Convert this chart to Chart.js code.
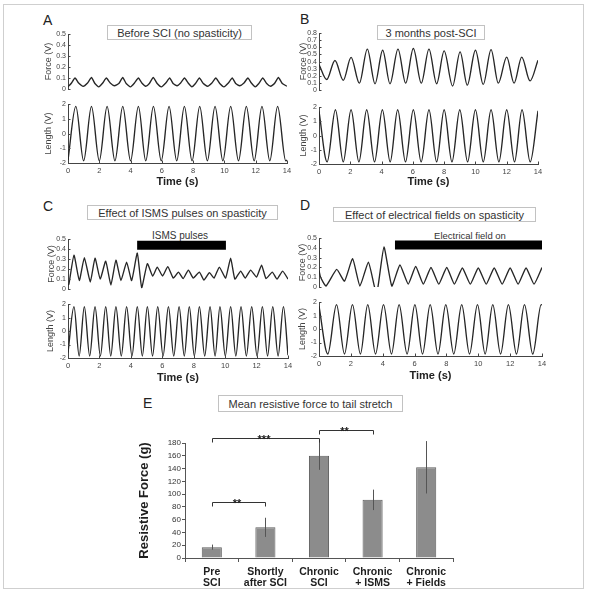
<!DOCTYPE html>
<html>
<head>
<meta charset="utf-8">
<script src="https://cdn.jsdelivr.net/npm/chart.js@4.4.0/dist/chart.umd.min.js"></script>
<style>
body { margin: 0; background: #fff; font-family: "Liberation Sans", Arial, sans-serif; }
#fig { position: relative; width: 590px; height: 599px; overflow: hidden; }
.frame { position: absolute; left: 3px; top: 4px; width: 579px; height: 583px; border: 1px solid #cfcfcf; }
canvas { position: absolute; }
.tbox { position: absolute; border: 1px solid #c2c2c2; background: #fff; color: #333; font-size: 11px;
        box-sizing: border-box; display: flex; align-items: center; justify-content: center; white-space: nowrap; }
.letter { position: absolute; font-size: 14px; line-height: 1; color: #222; }
.note { position: absolute; color: #333; white-space: nowrap; transform: translate(-50%, -50%); }
</style>
</head>
<body>
<div id="fig">
  <div class="frame"></div>

  <div class="letter" style="left:43px;top:13px">A</div>
  <div class="letter" style="left:300px;top:12px">B</div>
  <div class="letter" style="left:43px;top:199px">C</div>
  <div class="letter" style="left:300px;top:198px">D</div>
  <div class="letter" style="left:143px;top:396px">E</div>

  <div class="tbox" style="left:107px;top:25px;width:145px;height:15px">Before SCI (no spasticity)</div>
  <div class="tbox" style="left:377px;top:25px;width:108px;height:15px">3 months post-SCI</div>
  <div class="tbox" style="left:87px;top:205px;width:191px;height:15px">Effect of ISMS pulses on spasticity</div>
  <div class="tbox" style="left:333px;top:207px;width:203px;height:15px">Effect of electrical fields on spasticity</div>
  <div class="tbox" style="left:218px;top:395px;width:185px;height:17px">Mean resistive force to tail stretch</div>

  <div class="note" style="left:180px;top:235px;font-size:10px">ISMS pulses</div>
  <div class="note" style="left:470px;top:235px;font-size:9.5px">Electrical field on</div>

  <canvas id="forceA"></canvas>
  <canvas id="lengthA"></canvas>
  <canvas id="forceB"></canvas>
  <canvas id="lengthB"></canvas>
  <canvas id="forceC"></canvas>
  <canvas id="lengthC"></canvas>
  <canvas id="forceD"></canvas>
  <canvas id="lengthD"></canvas>
  <canvas id="barE"></canvas>
</div>

<script>
// ---- traces: [time (s), volts] ----
const forceA = [
  [0,0.02],[0.2,0.05],[0.45,0.1],[0.68,0.055],[0.97,0.025],[1.25,0.055],
  [1.5,0.105],[1.72,0.05],[1.97,0.02],[2.22,0.055],
  [2.45,0.1],[2.7,0.055],[2.97,0.03],[3.25,0.05],
  [3.5,0.105],[3.72,0.05],[4.0,0.02],[4.25,0.055],
  [4.5,0.1],[4.72,0.055],[4.97,0.025],[5.2,0.05],
  [5.45,0.105],[5.7,0.05],[5.97,0.02],[6.25,0.055],
  [6.5,0.1],[6.72,0.05],[6.97,0.03],[7.2,0.055],
  [7.45,0.1],[7.68,0.055],[7.92,0.02],[8.15,0.05],
  [8.4,0.1],[8.65,0.05],[8.92,0.025],[9.2,0.055],
  [9.45,0.1],[9.7,0.05],[9.97,0.02],[10.25,0.055],
  [10.5,0.1],[10.72,0.05],[10.97,0.03],[11.25,0.055],
  [11.5,0.1],[11.72,0.055],[11.97,0.02],[12.2,0.05],
  [12.45,0.1],[12.7,0.05],[12.95,0.025],[13.2,0.05],
  [13.45,0.105],[13.7,0.05],[14,0.025]
];
const lengthA = [
  [0,-1.8],[0.5,1.85],[1.0,-1.85],[1.5,1.85],[2.0,-1.85],[2.5,1.85],[3.0,-1.85],[3.5,1.85],
  [4.0,-1.85],[4.5,1.85],[4.97,-1.85],[5.46,1.85],[5.96,-1.85],[6.46,1.85],[6.95,-1.85],
  [7.44,1.85],[7.93,-1.85],[8.42,1.85],[8.91,-1.85],[9.4,1.85],[9.9,-1.85],[10.4,1.85],
  [10.9,-1.85],[11.4,1.85],[11.9,-1.85],[12.4,1.85],[12.9,-1.85],[13.4,1.85],[13.92,-1.85],[14,-1.8]
];
const forceB = [
  [0,0.36],[0.49,0.148],[1.02,0.416],[1.55,0.136],[2.05,0.46],[2.58,0.096],[3.09,0.576],
  [3.58,0.088],[4.07,0.56],[4.54,0.088],[5.05,0.576],[5.54,0.096],[6.03,0.584],[6.54,0.096],
  [7.03,0.576],[7.52,0.088],[8.0,0.55],[8.54,0.056],[9.02,0.536],[9.48,0.068],[10.0,0.56],
  [10.5,0.08],[11.0,0.568],[11.46,0.096],[12.0,0.464],[12.47,0.096],[12.96,0.464],[13.49,0.128],[14,0.42]
];
const lengthB = [
  [0,1.7],[0.52,-1.85],[1.05,1.82],[1.55,-1.85],[2.05,1.82],[2.55,-1.85],[3.05,1.82],[3.55,-1.85],
  [4.05,1.82],[4.55,-1.85],[5.03,1.82],[5.53,-1.85],[6.03,1.82],[6.53,-1.85],[7.03,1.82],[7.52,-1.85],
  [8.0,1.82],[8.5,-1.85],[9.0,1.82],[9.5,-1.85],[10.0,1.82],[10.5,-1.85],[11.0,1.82],[11.5,-1.85],
  [12.0,1.82],[12.5,-1.85],[12.98,1.82],[13.5,-1.85],[14,1.75]
];
const forceC = [
  [0,0.04],[0.06,0.05],[0.38,0.34],[0.72,0.085],[1.04,0.315],[1.42,0.07],[1.72,0.31],[2.05,0.1],
  [2.4,0.28],[2.73,0.04],[3.05,0.29],[3.37,0.085],[3.73,0.27],[4.05,0.085],[4.41,0.36],[4.69,0.015],
  [5.05,0.255],[5.39,0.13],[5.68,0.22],[6.02,0.13],[6.35,0.225],[6.7,0.11],[7.03,0.17],[7.33,0.105],
  [7.66,0.19],[7.97,0.11],[8.36,0.17],[8.65,0.09],[9.0,0.165],[9.29,0.11],[9.63,0.22],[10.03,0.11],
  [10.35,0.31],[10.62,0.1],[10.99,0.18],[11.28,0.11],[11.62,0.19],[12.0,0.12],[12.32,0.24],[12.6,0.105],
  [13.0,0.17],[13.3,0.1],[13.66,0.18],[14,0.1]
];
const lengthC = [
  [0,-1.6],[0.38,1.82],[0.71,-1.85],[1.04,1.82],[1.38,-1.85],[1.72,1.82],[2.06,-1.85],[2.4,1.82],
  [2.72,-1.85],[3.05,1.82],[3.39,-1.85],[3.73,1.82],[4.07,-1.85],[4.41,1.82],[4.73,-1.85],[5.05,1.82],
  [5.38,-1.85],[5.71,1.82],[6.05,-1.85],[6.39,1.82],[6.73,-1.85],[7.07,1.82],[7.4,-1.85],[7.72,1.82],
  [8.04,-1.85],[8.36,1.82],[8.7,-1.85],[9.04,1.82],[9.36,-1.85],[9.67,1.82],[10.01,-1.85],[10.35,1.82],
  [10.68,-1.85],[11.01,1.82],[11.35,-1.85],[11.69,1.82],[12.03,-1.85],[12.37,1.82],[12.7,-1.85],
  [13.03,1.82],[13.37,-1.85],[13.71,1.82],[14,-1.8]
];
const forceD = [
  [0,0.17],[0.1,0.1],[0.44,0.01],[1.11,0.18],[1.6,0.06],[2.11,0.29],[2.57,0.01],[3.1,0.255],
  [3.52,-0.02],[3.68,-0.02],[4.08,0.41],[4.57,0.01],[5.08,0.225],[5.6,0.03],[6.07,0.21],[6.55,0.03],
  [7.03,0.2],[7.52,0.03],[8.02,0.2],[8.5,0.03],[9.0,0.195],[9.5,0.03],[10.0,0.195],[10.5,0.03],
  [11.0,0.195],[11.5,0.03],[12.0,0.195],[12.5,0.03],[13.0,0.195],[13.5,0.03],[14,0.2]
];
const lengthD = [
  [0,1.7],[0.55,-1.85],[1.1,1.82],[1.6,-1.85],[2.1,1.82],[2.6,-1.85],[3.06,1.82],[3.55,-1.85],
  [4.05,1.82],[4.55,-1.85],[5.03,1.82],[5.53,-1.85],[6.02,1.82],[6.5,-1.85],[6.98,1.82],[7.47,-1.85],
  [7.96,1.82],[8.46,-1.85],[8.96,1.82],[9.45,-1.85],[9.95,1.82],[10.43,-1.85],[10.91,1.82],[11.4,-1.85],
  [11.89,1.82],[12.4,-1.85],[12.9,1.82],[13.42,-1.85],[13.95,1.82],[14,1.8]
];

// stimulation periods (start s, end s, drawn at force level)
const ismsBar = [4.4, 10.05, 0.44];
const fieldBar = [4.77, 14, 0.43];

// ---- panel E ----
const groups = [['Pre','SCI'], ['Shortly','after SCI'], ['Chronic','SCI'], ['Chronic','+ ISMS'], ['Chronic','+ Fields']];
const meanForce = [17, 48, 160, 91, 142];
const errForce = [4, 15, 22, 16, 41];
const sigFrom = [0, 2, 0];
const sigTo = [2, 3, 1];
const sigLevel = [188, 200, 88];
const sigLabel = ['***', '**', '**'];

Chart.defaults.font.family = '"Liberation Sans", Arial, sans-serif';
Chart.defaults.color = '#444';

// puts a canvas so that the chart area lands on box {x, y, w, h}
function placeCanvas(id, box, pad) {
  const cv = document.getElementById(id);
  cv.width = box.w + pad.l + pad.r;
  cv.height = box.h + pad.t + pad.b;
  cv.style.left = (box.x - pad.l) + 'px';
  cv.style.top = (box.y - pad.t) + 'px';
  return cv;
}

// small matlab-style ticks pointing into the plot
const innerTicks = {
  id: 'innerTicks',
  afterDraw(chart) {
    const ctx = chart.ctx;
    const area = chart.chartArea;
    ctx.save();
    ctx.strokeStyle = '#444';
    ctx.lineWidth = 1;
    ['x', 'y'].forEach(key => {
      const sc = chart.scales[key];
      if (!sc || !sc.options.display) return;
      sc.ticks.forEach(t => {
        const p = Math.round(sc.getPixelForValue(t.value)) + 0.5;
        ctx.beginPath();
        if (key === 'y') { ctx.moveTo(area.left, p); ctx.lineTo(area.left + 2.5, p); }
        else { ctx.moveTo(p, area.bottom); ctx.lineTo(p, area.bottom - 2.5); }
        ctx.stroke();
      });
    });
    ctx.restore();
  }
};

function traceChart(id, box, pts, yMin, yMax, yStep, yTitle, showTime, smooth, stim) {
  const pad = {l: box.padL, t: 6, r: 10, b: showTime ? box.padB : 6};
  const cv = placeCanvas(id, box, pad);

  let datasets = [{
    data: pts.map(p => ({x: p[0], y: p[1]})),
    borderColor: '#262626',
    borderWidth: 1.35,
    pointRadius: 0,
    cubicInterpolationMode: smooth ? 'monotone' : 'default',
    tension: smooth ? 0 : 0.15,
    fill: false
  }];
  if (stim) {
    datasets.push({
      data: [{x: stim[0], y: stim[2]}, {x: stim[1], y: stim[2]}],
      borderColor: '#000',
      borderWidth: 9,
      borderCapStyle: 'butt',
      pointRadius: 0,
      fill: false
    });
  }

  new Chart(cv, {
    type: 'line',
    data: {datasets: datasets},
    options: {
      responsive: false,
      animation: false,
      devicePixelRatio: 1,
      layout: {padding: {top: pad.t, right: pad.r, left: 0, bottom: showTime ? 0 : pad.b}},
      plugins: {legend: {display: false}, tooltip: {enabled: false}},
      scales: {
        x: {
          type: 'linear', min: 0, max: 14,
          display: showTime,
          grid: {display: false, drawTicks: false},
          border: {display: true, color: '#444', width: 1},
          ticks: {stepSize: 2, autoSkip: false, maxRotation: 0, padding: 3, font: {size: 7.5}, color: '#444'},
          title: {display: true, text: 'Time (s)', padding: 0, color: '#222', font: {size: 11, weight: 'bold'}},
          afterFit: s => { s.height = pad.b; }
        },
        y: {
          min: yMin, max: yMax,
          grid: {display: false, drawTicks: false},
          border: {display: true, color: '#444', width: 1},
          ticks: {stepSize: yStep, autoSkip: false, padding: 2, font: {size: 7}, color: '#444'},
          title: {display: true, text: yTitle, padding: 0, color: '#444', font: {size: 9}},
          afterFit: s => { s.width = pad.l; }
        }
      }
    },
    plugins: [innerTicks]
  });
}

traceChart('forceA',  {x: 68,  y: 34,  w: 219, h: 61, padL: 25},         forceA,  0, 0.5, 0.1, 'Force (V)',  false, false);
traceChart('lengthA', {x: 68,  y: 104, w: 219, h: 59, padL: 25, padB: 26}, lengthA, -2, 2, 1,   'Length (V)', true,  true);
traceChart('forceB',  {x: 319, y: 33,  w: 219, h: 63, padL: 21},         forceB,  0, 0.8, 0.1, 'Force (V)',  false, true);
traceChart('lengthB', {x: 319, y: 107, w: 219, h: 57, padL: 21, padB: 25}, lengthB, -2, 2, 1,   'Length (V)', true,  true);
traceChart('forceC',  {x: 68,  y: 239, w: 220, h: 56, padL: 22},         forceC,  0, 0.5, 0.1, 'Force (V)',  false, false, ismsBar);
traceChart('lengthC', {x: 68,  y: 304, w: 220, h: 54, padL: 23, padB: 27}, lengthC, -2, 2, 1,   'Length (V)', true,  true);
traceChart('forceD',  {x: 319, y: 238, w: 223, h: 55, padL: 22},         forceD,  0, 0.5, 0.1, 'Force (V)',  false, false, fieldBar);
traceChart('lengthD', {x: 319, y: 302, w: 223, h: 54, padL: 22, padB: 27}, lengthD, -2, 2, 1,   'Length (V)', true,  true);

// error bars and significance brackets for panel E
const barExtras = {
  id: 'barExtras',
  afterDatasetsDraw(chart) {
    const ctx = chart.ctx;
    const y = chart.scales.y;
    const bars = chart.getDatasetMeta(0).data;
    ctx.save();
    ctx.strokeStyle = '#555';
    ctx.lineWidth = 1;
    for (let i = 0; i < bars.length; i++) {
      const x = Math.round(bars[i].x) + 0.5;
      ctx.beginPath();
      ctx.moveTo(x, y.getPixelForValue(meanForce[i] - errForce[i]));
      ctx.lineTo(x, y.getPixelForValue(meanForce[i] + errForce[i]));
      ctx.stroke();
    }
    ctx.strokeStyle = '#333';
    ctx.fillStyle = '#222';
    ctx.font = 'bold 11px "Liberation Sans", Arial, sans-serif';
    ctx.textAlign = 'center';
    ctx.textBaseline = 'alphabetic';
    for (let k = 0; k < sigFrom.length; k++) {
      const x1 = Math.round(bars[sigFrom[k]].x) + 0.5;
      const x2 = Math.round(bars[sigTo[k]].x) + 0.5;
      const yy = Math.round(y.getPixelForValue(sigLevel[k])) + 0.5;
      ctx.beginPath();
      ctx.moveTo(x1, yy + 4);
      ctx.lineTo(x1, yy);
      ctx.lineTo(x2, yy);
      ctx.lineTo(x2, yy + 4);
      ctx.stroke();
      ctx.fillText(sigLabel[k], (x1 + x2) / 2 - 2, yy + 4);
    }
    ctx.restore();
  }
};

const padE = {l: 48, t: 30, r: 30, b: 36};
const cvE = placeCanvas('barE', {x: 185, y: 443, w: 268, h: 115}, padE);
new Chart(cvE, {
  type: 'bar',
  data: {
    labels: groups,
    datasets: [{
      data: meanForce,
      backgroundColor: '#8c8c8c',
      borderColor: '#5f5f5f',
      borderWidth: 1,
      barPercentage: 0.375,
      categoryPercentage: 1
    }]
  },
  options: {
    responsive: false,
    animation: false,
    devicePixelRatio: 1,
    layout: {padding: {top: padE.t, right: padE.r, left: 0, bottom: 0}},
    plugins: {legend: {display: false}, tooltip: {enabled: false}},
    scales: {
      x: {
        grid: {display: true, drawOnChartArea: false, drawTicks: true, tickLength: 4, offset: true, color: '#555'},
        border: {display: true, color: '#555'},
        ticks: {autoSkip: false, maxRotation: 0, padding: 5, color: '#1e1e1e', font: {size: 10.5, weight: 'bold', lineHeight: 1.05}},
        afterFit: s => { s.height = padE.b; }
      },
      y: {
        min: 0, max: 180,
        grid: {display: true, drawOnChartArea: false, drawTicks: true, tickLength: 3, color: '#555'},
        border: {display: true, color: '#555'},
        ticks: {stepSize: 20, autoSkip: false, padding: 1, font: {size: 8}, color: '#333'},
        title: {display: true, text: 'Resistive Force (g)', padding: 0, color: '#1e1e1e', font: {size: 13, weight: 'bold'}},
        afterFit: s => { s.width = padE.l; }
      }
    }
  },
  plugins: [barExtras]
});
</script>
</body>
</html>
